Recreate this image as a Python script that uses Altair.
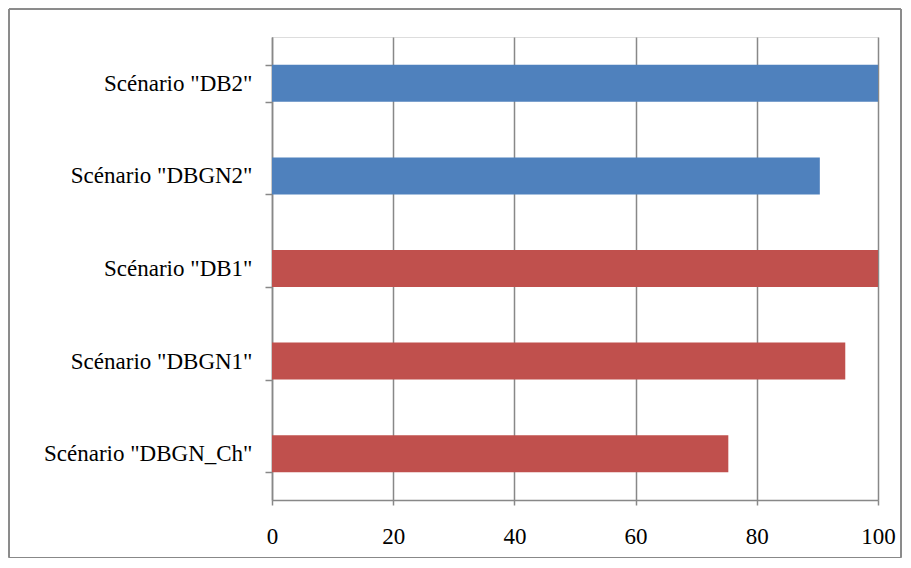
import altair as alt
import pandas as pd

categories = ['Scénario "DB2"', 'Scénario "DBGN2"', 'Scénario "DB1"', 'Scénario "DBGN1"', 'Scénario "DBGN_Ch"']
values = [100, 90.4, 100, 94.6, 75.3]
groups = ["2", "2", "1", "1", "1"]
x_ticks = [0, 20, 40, 60, 80, 100]

df = pd.DataFrame({"cat": categories, "val": values, "grp": groups})

FONT = "Liberation Serif"
GRID = "#888888"

bars = alt.Chart(df).mark_bar().encode(
    y=alt.Y("cat:N", sort=categories,
            scale=alt.Scale(paddingInner=0.6, paddingOuter=0.3),
            axis=alt.Axis(title=None, tickBand="extent", tickSize=7, tickColor=GRID,
                          tickWidth=1.5, domainWidth=1.5,
                          domainColor=GRID, labelFont=FONT, labelFontSize=23,
                          labelColor="black", labelPadding=13, labelLimit=400, grid=False)),
    x=alt.X("val:Q", scale=alt.Scale(domain=[0, 100], nice=False),
            axis=alt.Axis(title=None, values=x_ticks, grid=True, gridColor=GRID,
                          gridWidth=1.5, tickWidth=1.5, domainWidth=1.5,
                          gridOpacity=1, tickSize=5, tickColor=GRID, domainColor=GRID,
                          labelFont=FONT, labelFontSize=23, labelColor="black",
                          labelPadding=20, labelFlush=False)),
    color=alt.Color("grp:N", scale=alt.Scale(domain=["2", "1"], range=["#4F81BD", "#C0504D"]),
                    legend=None),
)

border = alt.Chart(df).mark_rect(fill=None, stroke="#888888", strokeWidth=1, clip=False).encode(
    x=alt.value(-263), x2=alt.value(629), y=alt.value(-28), y2=alt.value(520.5)
)

chart = alt.layer(border, bars).properties(
    width=606, height=463,
    padding={"left": 264, "top": 29, "right": 25, "bottom": 58},
    autosize=alt.AutoSizeParams(type="none"),
).configure_view(stroke=None).configure(background="white")

chart.save("out.html", embed_options={"renderer": "svg", "actions": False})
